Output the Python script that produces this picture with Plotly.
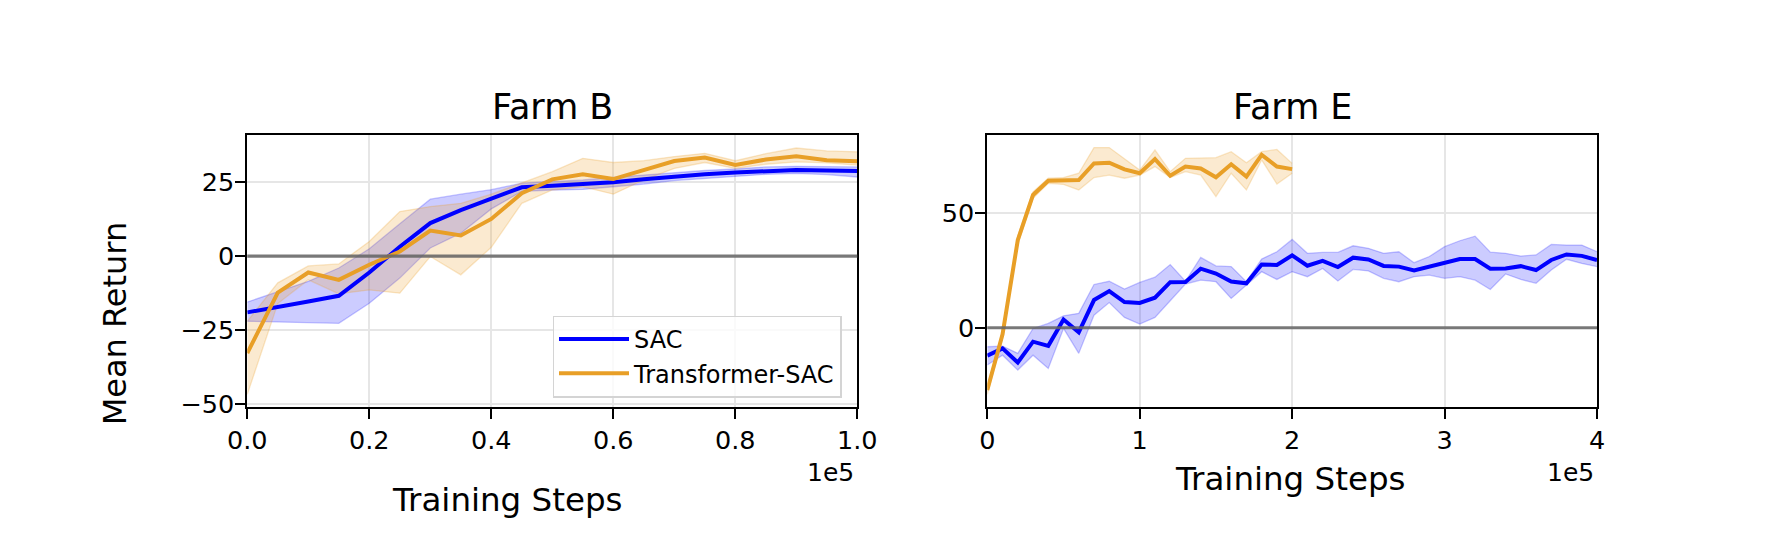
import plotly.graph_objects as go

# ---------------- data ----------------
farmB_steps = [0, 5000, 10000, 15000, 20000, 25000, 30000, 35000, 40000, 45000, 50000,
               55000, 60000, 65000, 70000, 75000, 80000, 85000, 90000, 95000, 100000]

farmB_sac_mean = [-19.0, -17.0, -15.3, -13.4, -5.5, 3.2, 11.2, 15.6, 19.5, 23.3, 23.8,
                  24.4, 25.0, 26.0, 26.9, 27.7, 28.3, 28.8, 29.2, 29.0, 28.8]
farmB_sac_upper = [-15.5, -12.0, -8.5, -4.0, 2.5, 11.0, 19.3, 21.0, 22.5, 24.7, 25.2,
                   25.8, 26.7, 27.5, 28.4, 29.0, 29.5, 30.2, 30.4, 30.2, 30.2]
farmB_sac_lower = [-22.0, -22.2, -22.4, -22.7, -15.9, -7.4, 2.8, 7.8, 16.0, 21.9, 22.4,
                   22.6, 23.5, 24.4, 25.6, 26.3, 27.1, 27.7, 28.0, 27.6, 26.8]

farmB_tsac_mean = [-32.8, -12.3, -5.5, -8.0, -2.9, 1.6, 8.7, 7.0, 12.6, 21.3, 26.0,
                   27.7, 26.1, 29.2, 32.2, 33.4, 30.9, 32.7, 33.8, 32.5, 32.1]
farmB_tsac_upper = [-22.0, -9.0, -3.3, -2.6, 5.0, 15.1, 16.8, 17.9, 21.0, 24.7, 28.6,
                    33.1, 31.7, 32.3, 33.7, 34.8, 32.3, 34.7, 36.6, 35.6, 35.3]
farmB_tsac_lower = [-46.7, -16.0, -8.0, -12.7, -11.4, -12.5, -0.1, -6.3, 3.0, 17.9, 22.4,
                    23.5, 21.0, 25.8, 29.7, 31.7, 29.7, 31.1, 31.9, 31.6, 30.8]

farmE_sac_steps = [0, 10000, 20000, 30000, 40000, 50000, 60000, 70000, 80000, 90000,
                   100000, 110000, 120000, 130000, 140000, 150000, 160000, 170000, 180000,
                   190000, 200000, 210000, 220000, 230000, 240000, 250000, 260000, 270000,
                   280000, 290000, 300000, 310000, 320000, 330000, 340000, 350000, 360000,
                   370000, 380000, 390000, 400000]
farmE_sac_mean = [-12.2, -9.0, -15.2, -6.1, -7.9, 3.6, -2.0, 12.1, 16.0, 11.2,
                  10.8, 13.1, 19.9, 20.0, 25.8, 23.7, 20.2, 19.4, 27.6,
                  27.4, 31.6, 27.1, 29.2, 26.5, 30.6, 29.8, 27.0, 26.7,
                  25.0, 26.7, 28.5, 30.0, 30.0, 25.8, 25.9, 26.9, 25.2,
                  29.6, 32.0, 31.4, 29.6]
farmE_sac_upper = [-8.3, -8.0, -11.2, -0.3, 1.9, 5.2, 6.3, 18.9, 20.3, 16.9,
                   19.8, 22.1, 27.6, 20.3, 30.7, 27.0, 26.7, 20.1, 30.0,
                   33.2, 38.6, 32.5, 32.9, 32.9, 35.8, 34.7, 32.5, 33.2,
                   28.4, 31.1, 35.4, 38.0, 40.0, 33.0, 32.5, 31.3, 31.8,
                   36.4, 36.1, 36.1, 33.2]
farmE_sac_lower = [-16.3, -12.0, -18.5, -12.0, -17.8, -0.3, -11.2, 5.5, 11.0, 4.5,
                   1.6, 4.5, 11.8, 19.1, 20.8, 20.1, 12.8, 18.6, 24.5,
                   21.1, 24.5, 22.3, 25.9, 20.4, 25.5, 24.8, 21.6, 20.1,
                   22.3, 23.0, 21.6, 22.3, 20.8, 16.7, 23.5, 21.1, 19.4,
                   25.2, 29.9, 28.1, 26.7]

farmE_tsac_steps = [0, 10000, 20000, 30000, 40000, 50000, 60000, 70000, 80000, 90000,
                    100000, 110000, 120000, 130000, 140000, 150000, 160000, 170000,
                    180000, 190000, 200000]
farmE_tsac_mean = [-27.2, -2.9, 38.3, 58.0, 64.2, 64.2, 64.5, 71.8, 72.1, 69.2,
                   67.5, 73.7, 66.4, 70.4, 69.6, 65.7, 71.4, 66.0, 75.5, 70.4, 69.3]
farmE_tsac_upper = [-25.8, -1.5, 40.0, 59.4, 65.3, 65.6, 67.5, 78.7, 78.7, 74.0,
                    68.9, 77.7, 68.2, 74.0, 74.0, 74.3, 76.9, 72.1, 76.9, 77.9, 71.8]
farmE_tsac_lower = [-29.1, -4.5, 36.5, 56.5, 63.1, 62.6, 60.2, 65.6, 66.7, 65.3,
                    66.7, 70.4, 65.6, 68.2, 66.7, 57.3, 67.5, 60.2, 73.3, 62.8, 67.5]

farmB_xtickvals = [0, 20000, 40000, 60000, 80000, 100000]
farmB_xticktext = ["0.0", "0.2", "0.4", "0.6", "0.8", "1.0"]
farmE_xtickvals = [0, 100000, 200000, 300000, 400000]
farmE_xticktext = ["0", "1", "2", "3", "4"]
farmB_ytickvals = [-50, -25, 0, 25]
farmB_yticktext = ["\u221250", "\u221225", "0", "25"]
farmE_ytickvals = [0, 50]
farmE_yticktext = ["0", "50"]

series_names = ["SAC", "Transformer-SAC"]
titles = ["Farm B", "Farm E"]

# ---------------- style ----------------
FONT = "DejaVu Sans"
BLUE = "#0000ff"
ORANGE = "#e89f27"
BLUE_FILL = "rgba(0,0,255,0.2)"
ORANGE_FILL = "rgba(235,160,40,0.22)"
W, H = 1766, 554


def px_x(p):
    return p / W


def px_y(p):
    return 1 - p / H


fig = go.Figure()


def add_band(x, lo, hi, fill, edge, xa, ya):
    fig.add_trace(go.Scatter(x=x, y=hi, mode="lines", line=dict(color=edge, width=1.3),
                             showlegend=False, hoverinfo="skip", xaxis=xa, yaxis=ya))
    fig.add_trace(go.Scatter(x=x, y=lo, mode="lines", line=dict(color=edge, width=1.3),
                             fill="tonexty", fillcolor=fill, showlegend=False,
                             hoverinfo="skip", xaxis=xa, yaxis=ya))


# Farm B
add_band(farmB_steps, farmB_sac_lower, farmB_sac_upper, BLUE_FILL, "rgba(0,0,255,0.22)", "x", "y")
add_band(farmB_steps, farmB_tsac_lower, farmB_tsac_upper, ORANGE_FILL, "rgba(235,160,40,0.25)", "x", "y")
fig.add_trace(go.Scatter(x=farmB_steps, y=farmB_sac_mean, mode="lines", name=series_names[0],
                         line=dict(color=BLUE, width=4), xaxis="x", yaxis="y"))
fig.add_trace(go.Scatter(x=farmB_steps, y=farmB_tsac_mean, mode="lines", name=series_names[1],
                         line=dict(color=ORANGE, width=4), xaxis="x", yaxis="y"))

# Farm E
add_band(farmE_sac_steps, farmE_sac_lower, farmE_sac_upper, BLUE_FILL, "rgba(0,0,255,0.22)", "x2", "y2")
add_band(farmE_tsac_steps, farmE_tsac_lower, farmE_tsac_upper, ORANGE_FILL, "rgba(235,160,40,0.25)", "x2", "y2")
fig.add_trace(go.Scatter(x=farmE_sac_steps, y=farmE_sac_mean, mode="lines", name=series_names[0],
                         line=dict(color=BLUE, width=4), showlegend=False, xaxis="x2", yaxis="y2"))
fig.add_trace(go.Scatter(x=farmE_tsac_steps, y=farmE_tsac_mean, mode="lines", name=series_names[1],
                         line=dict(color=ORANGE, width=4), showlegend=False, xaxis="x2", yaxis="y2"))

axis_common = dict(
    automargin=False,
    showgrid=True, gridcolor="#e6e6e6", gridwidth=2,
    showline=True, linecolor="black", linewidth=2, mirror=True,
    ticks="outside", ticklen=10, tickwidth=2, tickcolor="black",
    zeroline=False, tickfont=dict(family=FONT, size=25.5, color="black"),
)

ydom = [px_y(406.7), px_y(135)]
fig.update_layout(
    template="none",
    width=W, height=H,
    margin=dict(l=0, r=0, t=0, b=0, pad=0),
    paper_bgcolor="white", plot_bgcolor="white",
    font=dict(family=FONT, color="black"),
    xaxis=dict(domain=[px_x(247.3), px_x(857.3)], range=[0, 100000],
               tickvals=farmB_xtickvals, ticktext=farmB_xticktext, anchor="y", **axis_common),
    yaxis=dict(domain=ydom, range=[-50.9, 41.0], ticklabelstandoff=-4,
               tickvals=farmB_ytickvals, ticktext=farmB_yticktext, anchor="x", **axis_common),
    xaxis2=dict(domain=[px_x(987.3), px_x(1597)], range=[0, 400000],
                tickvals=farmE_xtickvals, ticktext=farmE_xticktext, anchor="y2", **axis_common),
    yaxis2=dict(domain=ydom, range=[-34.5, 84.2], ticklabelstandoff=-4,
                tickvals=farmE_ytickvals, ticktext=farmE_yticktext, anchor="x2", **axis_common),
    legend=dict(x=px_x(552.5), y=px_y(315.5), xanchor="left", yanchor="top",
                traceorder="normal",
                bgcolor="rgba(255,255,255,0.8)", bordercolor="#d4d4d4", borderwidth=1.5,
                font=dict(family=FONT, size=24, color="black"),
                itemwidth=70),
    showlegend=True,
)

# zero reference lines
for xr, yr in (("x domain", "y"), ("x2 domain", "y2")):
    fig.add_shape(type="line", xref=xr, yref=yr, x0=0, x1=1, y0=0, y1=0,
                  line=dict(color="rgba(100,100,100,0.85)", width=3.2), layer="above")

# titles and labels
ann = []
ann.append(dict(text=titles[0], x=px_x(552.3), y=px_y(107.5), xanchor="center", yanchor="middle",
                font=dict(size=35)))
ann.append(dict(text=titles[1], x=px_x(1292.2), y=px_y(107.5), xanchor="center", yanchor="middle",
                font=dict(size=35)))
ann.append(dict(text="Training Steps", x=px_x(507.5), y=px_y(499.5), xanchor="center", yanchor="middle",
                font=dict(size=32.5)))
ann.append(dict(text="Training Steps", x=px_x(1290.8), y=px_y(479), xanchor="center", yanchor="middle",
                font=dict(size=32.5)))
ann.append(dict(text="1e5", x=px_x(856), y=px_y(472), xanchor="right", yanchor="middle",
                font=dict(size=25)))
ann.append(dict(text="1e5", x=px_x(1596), y=px_y(472), xanchor="right", yanchor="middle",
                font=dict(size=25)))
ann.append(dict(text="Mean Return", x=px_x(115), y=px_y(323.3), xanchor="center", yanchor="middle",
                textangle=-90, font=dict(size=32)))
for a in ann:
    a.update(xref="paper", yref="paper", showarrow=False)
    a["font"].update(family=FONT, color="black")
fig.update_layout(annotations=ann)

fig.write_html("out.html")
